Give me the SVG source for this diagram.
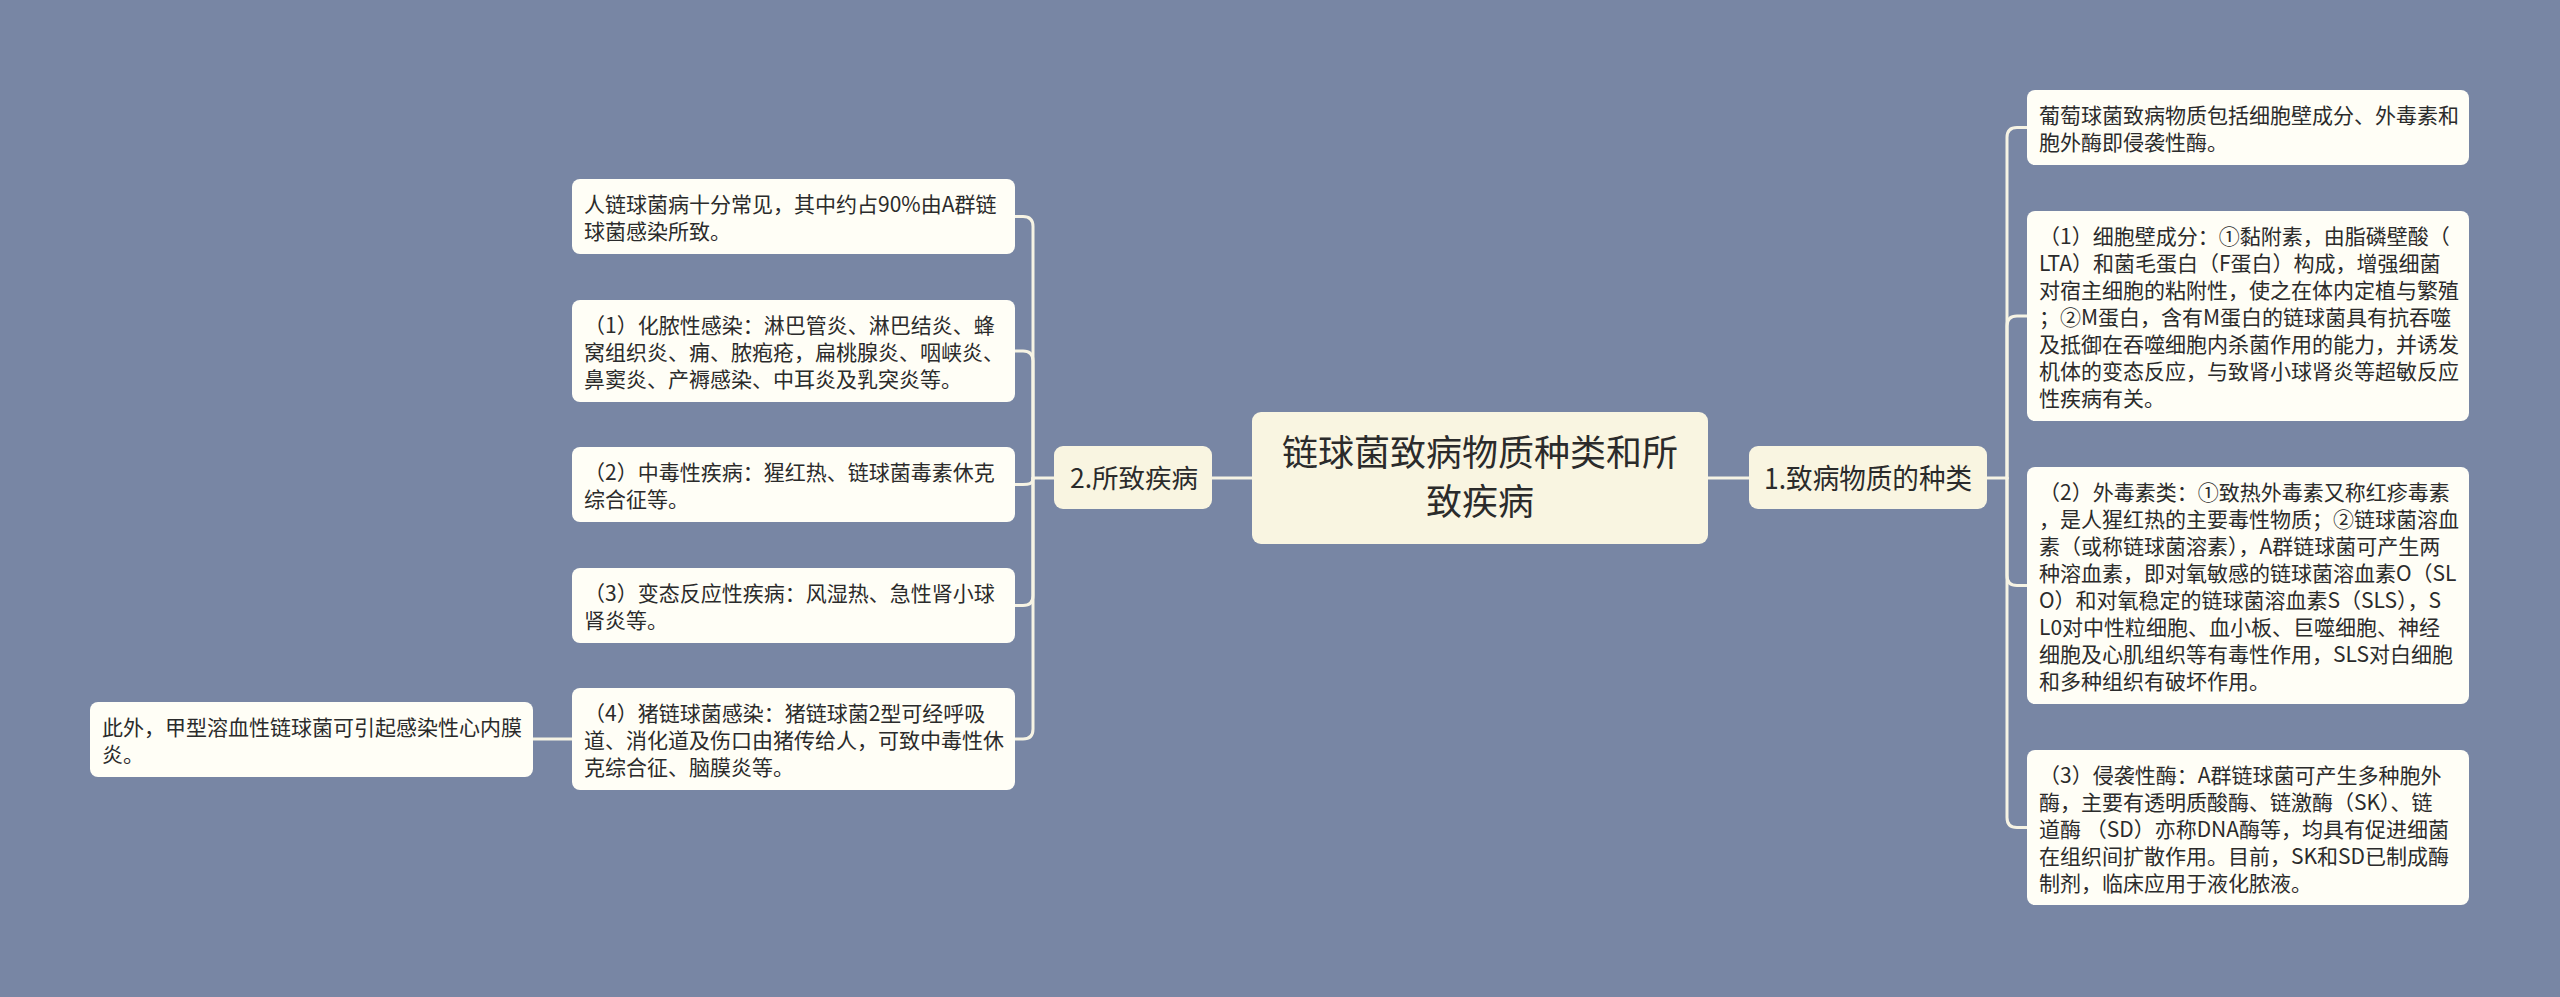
<svg xmlns="http://www.w3.org/2000/svg" width="2560" height="997" viewBox="0 0 2560 997">
<style>
.bg{fill:#7886a4}
.leaf rect{fill:#fffef6}
.main rect{fill:#f9f5e1}
.t{font-family:"Noto Sans CJK SC","Noto Sans",sans-serif;fill:#2b2b2b}
.lt{font-size:21px}
.conn path{fill:none;stroke:#f6f3e4;stroke-width:3;stroke-linecap:round}
</style>
<rect class="bg" x="0" y="0" width="2560" height="997"/>
<g id="connectors" class="conn">
<path d="M1252 478 H1212"/>
<path d="M1708 478 H1749"/>
<path d="M1987 478 H2007"/>
<path d="M2007 478 V137.5 Q2007 127.5 2017 127.5 H2027"/>
<path d="M2007 478 V326 Q2007 316 2017 316 H2027"/>
<path d="M2007 478 V575.5 Q2007 585.5 2017 585.5 H2027"/>
<path d="M2007 478 V817.5 Q2007 827.5 2017 827.5 H2027"/>
<path d="M1054 478 H1033"/>
<path d="M1033 478 V226.5 Q1033 216.5 1023 216.5 H1015"/>
<path d="M1033 478 V361 Q1033 351 1023 351 H1015"/>
<path d="M1033 478 C1033 484.5 1028 484.5 1023 484.5 H1015"/>
<path d="M1033 478 V595.5 Q1033 605.5 1023 605.5 H1015"/>
<path d="M1033 478 V729 Q1033 739 1023 739 H1015"/>
<path d="M572 739 H533"/>
</g>
<g id="center" class="main">
<rect x="1252" y="412" width="456" height="132" rx="9"/>
<text class="t" font-size="36" text-anchor="middle"><tspan x="1480" y="466">链球菌致病物质种类和所</tspan><tspan x="1480" y="515">致疾病</tspan></text>
</g>
<g id="n1" class="main">
<rect x="1749" y="446" width="238" height="63" rx="9"/>
<text class="t" font-size="28.5" x="1764" y="488.5" textLength="208" lengthAdjust="spacingAndGlyphs">1.致病物质的种类</text>
</g>
<g id="n2" class="main">
<rect x="1054" y="446" width="158" height="63" rx="9"/>
<text class="t" font-size="26.5" text-anchor="middle" x="1134" y="488">2.所致疾病</text>
</g>
<g id="r0" class="leaf">
<rect x="2027" y="90" width="442" height="75" rx="8"/>
<text class="t lt"><tspan x="2039" y="123">葡萄球菌致病物质包括细胞壁成分、外毒素和</tspan><tspan x="2039" y="150">胞外酶即侵袭性酶。</tspan></text>
</g>
<g id="r1" class="leaf">
<rect x="2027" y="211" width="442" height="210" rx="8"/>
<text class="t lt"><tspan x="2039" y="244">（1）细胞壁成分：①黏附素，由脂磷壁酸（</tspan><tspan x="2039" y="271">LTA）和菌毛蛋白（F蛋白）构成，增强细菌</tspan><tspan x="2039" y="298">对宿主细胞的粘附性，使之在体内定植与繁殖</tspan><tspan x="2039" y="325">；②M蛋白，含有M蛋白的链球菌具有抗吞噬</tspan><tspan x="2039" y="352">及抵御在吞噬细胞内杀菌作用的能力，并诱发</tspan><tspan x="2039" y="379">机体的变态反应，与致肾小球肾炎等超敏反应</tspan><tspan x="2039" y="406">性疾病有关。</tspan></text>
</g>
<g id="r2" class="leaf">
<rect x="2027" y="467" width="442" height="237" rx="8"/>
<text class="t lt"><tspan x="2039" y="500">（2）外毒素类：①致热外毒素又称红疹毒素</tspan><tspan x="2039" y="527">，是人猩红热的主要毒性物质；②链球菌溶血</tspan><tspan x="2039" y="554">素（或称链球菌溶素），A群链球菌可产生两</tspan><tspan x="2039" y="581">种溶血素，即对氧敏感的链球菌溶血素O（SL</tspan><tspan x="2039" y="608">O）和对氧稳定的链球菌溶血素S（SLS），S</tspan><tspan x="2039" y="635">L0对中性粒细胞、血小板、巨噬细胞、神经</tspan><tspan x="2039" y="662">细胞及心肌组织等有毒性作用，SLS对白细胞</tspan><tspan x="2039" y="689">和多种组织有破坏作用。</tspan></text>
</g>
<g id="r3" class="leaf">
<rect x="2027" y="750" width="442" height="155" rx="8"/>
<text class="t lt"><tspan x="2039" y="783">（3）侵袭性酶：A群链球菌可产生多种胞外</tspan><tspan x="2039" y="810">酶，主要有透明质酸酶、链激酶（SK）、链</tspan><tspan x="2039" y="837">道酶 （SD）亦称DNA酶等，均具有促进细菌</tspan><tspan x="2039" y="864">在组织间扩散作用。目前，SK和SD已制成酶</tspan><tspan x="2039" y="891">制剂，临床应用于液化脓液。</tspan></text>
</g>
<g id="l0" class="leaf">
<rect x="572" y="179" width="443" height="75" rx="8"/>
<text class="t lt"><tspan x="584" y="212">人链球菌病十分常见，其中约占90%由A群链</tspan><tspan x="584" y="239">球菌感染所致。</tspan></text>
</g>
<g id="l1" class="leaf">
<rect x="572" y="300" width="443" height="102" rx="8"/>
<text class="t lt"><tspan x="584" y="333">（1）化脓性感染：淋巴管炎、淋巴结炎、蜂</tspan><tspan x="584" y="360">窝组织炎、痈、脓疱疮，扁桃腺炎、咽峡炎、</tspan><tspan x="584" y="387">鼻窦炎、产褥感染、中耳炎及乳突炎等。</tspan></text>
</g>
<g id="l2" class="leaf">
<rect x="572" y="447" width="443" height="75" rx="8"/>
<text class="t lt"><tspan x="584" y="480">（2）中毒性疾病：猩红热、链球菌毒素休克</tspan><tspan x="584" y="507">综合征等。</tspan></text>
</g>
<g id="l3" class="leaf">
<rect x="572" y="568" width="443" height="75" rx="8"/>
<text class="t lt"><tspan x="584" y="601">（3）变态反应性疾病：风湿热、急性肾小球</tspan><tspan x="584" y="628">肾炎等。</tspan></text>
</g>
<g id="l4" class="leaf">
<rect x="572" y="688" width="443" height="102" rx="8"/>
<text class="t lt"><tspan x="584" y="721">（4）猪链球菌感染：猪链球菌2型可经呼吸</tspan><tspan x="584" y="748">道、消化道及伤口由猪传给人，可致中毒性休</tspan><tspan x="584" y="775">克综合征、脑膜炎等。</tspan></text>
</g>
<g id="l5" class="leaf">
<rect x="90" y="702" width="443" height="75" rx="8"/>
<text class="t lt"><tspan x="102" y="735">此外，甲型溶血性链球菌可引起感染性心内膜</tspan><tspan x="102" y="762">炎。</tspan></text>
</g>
</svg>
